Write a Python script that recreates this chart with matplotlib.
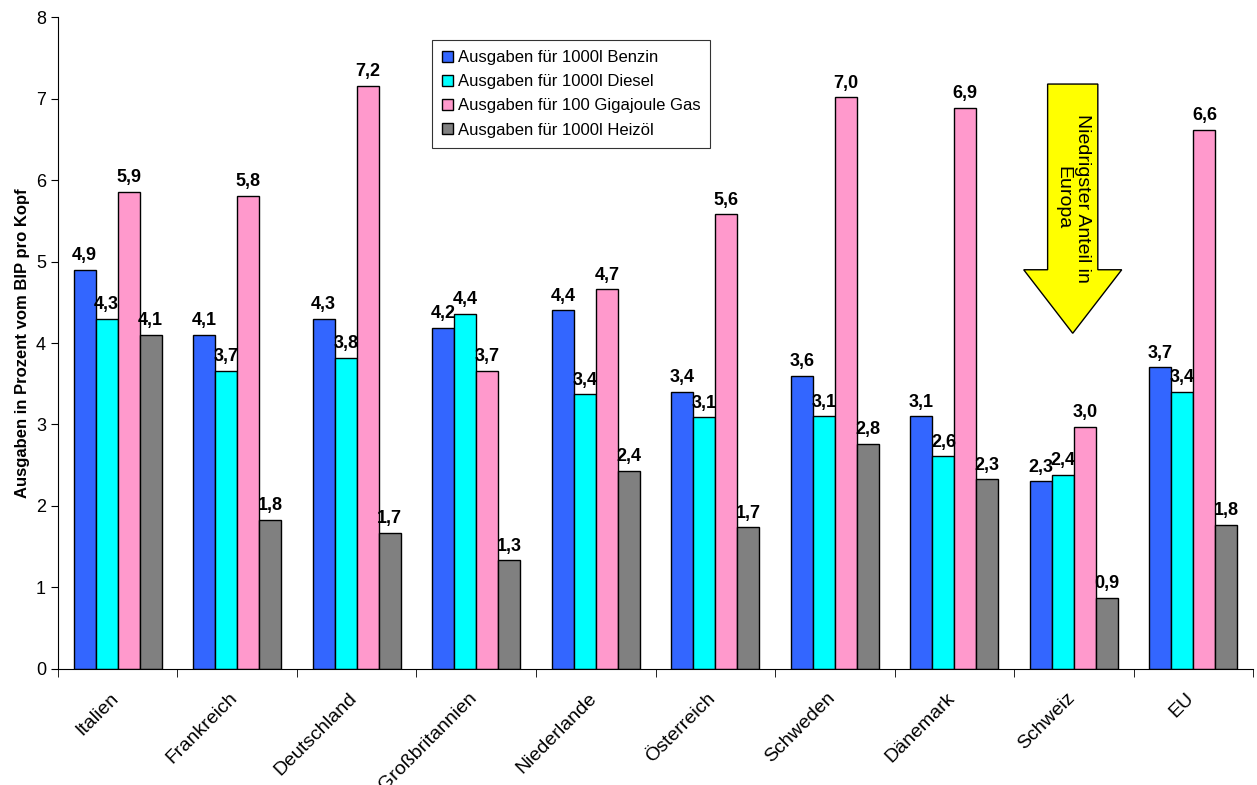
import matplotlib.pyplot as plt
import matplotlib.transforms as mtransforms
from matplotlib.patches import Polygon
import numpy as np

plt.rcParams['font.family'] = ['Liberation Sans', 'DejaVu Sans']

# Daten
laender = ['Italien', 'Frankreich', 'Deutschland', 'Großbritannien', 'Niederlande',
           'Österreich', 'Schweden', 'Dänemark', 'Schweiz', 'EU']
benzin = [4.9, 4.1, 4.3, 4.19, 4.4, 3.4, 3.6, 3.1, 2.3, 3.7]
diesel = [4.3, 3.66, 3.82, 4.36, 3.37, 3.09, 3.1, 2.61, 2.38, 3.4]
gas = [5.86, 5.81, 7.16, 3.66, 4.66, 5.58, 7.02, 6.89, 2.97, 6.62]
heizoel = [4.1, 1.83, 1.67, 1.33, 2.43, 1.74, 2.76, 2.33, 0.87, 1.77]

serien = ['Ausgaben für 1000l Benzin', 'Ausgaben für 1000l Diesel',
          'Ausgaben für 100 Gigajoule Gas', 'Ausgaben für 1000l Heizöl']
farben = ['#3366FF', '#00FFFF', '#FF99CC', '#808080']

fig = plt.figure(figsize=(12.57, 7.85), dpi=100)
ax = fig.add_axes([0.046, 0.148, 0.951, 0.830])

x = np.arange(len(laender))
w = 0.184
for i, (werte, name, farbe) in enumerate(zip([benzin, diesel, gas, heizoel], serien, farben)):
    bars = ax.bar(x + (i - 1.5) * w, werte, w, color=farbe, edgecolor='black',
                  linewidth=1, label=name)
    ax.bar_label(bars, labels=[f'{v:.1f}'.replace('.', ',') for v in werte],
                 padding=4, fontsize=13, fontweight='bold')

ax.set_xlim(-0.5, len(laender) - 0.5)
ax.set_ylim(0, 8)
ax.set_yticks(range(9))
ax.tick_params(axis='y', labelsize=13, length=5, direction='out')
ax.set_ylabel('Ausgaben in Prozent vom BIP pro Kopf', fontsize=12, fontweight='bold')

# Kategorien-Beschriftung mittig, Striche zwischen den Gruppen
ax.set_xticks(x)
ax.set_xticklabels(laender, rotation=45, ha='right', rotation_mode='anchor', fontsize=14)
ax.tick_params(axis='x', which='major', length=0, pad=15)
ax.set_xticks(np.arange(-0.5, len(laender)), minor=True)
ax.tick_params(axis='x', which='minor', length=6)
versatz = mtransforms.ScaledTranslation(-8 / 100, 0, fig.dpi_scale_trans)
for lab in ax.get_xticklabels():
    lab.set_transform(lab.get_transform() + versatz)

for s in ['top', 'right']:
    ax.spines[s].set_visible(False)

leg = ax.legend(loc='upper left', bbox_to_anchor=(0.313, 0.965), borderaxespad=0,
                fontsize=12, frameon=True, fancybox=False, edgecolor='black',
                handlelength=0.65, handleheight=0.65, handletextpad=0.3,
                labelspacing=0.55, borderpad=0.6)
leg.get_frame().set_linewidth(0.8)

# Pfeil "Niedrigster Anteil in Europa"
pfeil = Polygon([(7.78, 7.18), (8.20, 7.18), (8.20, 4.90), (8.40, 4.90),
                 (7.99, 4.12), (7.58, 4.90), (7.78, 4.90)],
                closed=True, facecolor='#FFFF00', edgecolor='black', linewidth=1, zorder=5)
ax.add_patch(pfeil)
ax.text(7.99, 5.78, 'Niedrigster Anteil in\nEuropa', rotation=-90, ha='center', va='center',
        multialignment='center', fontsize=14, zorder=6)

fig.savefig('out.png', dpi=100)
